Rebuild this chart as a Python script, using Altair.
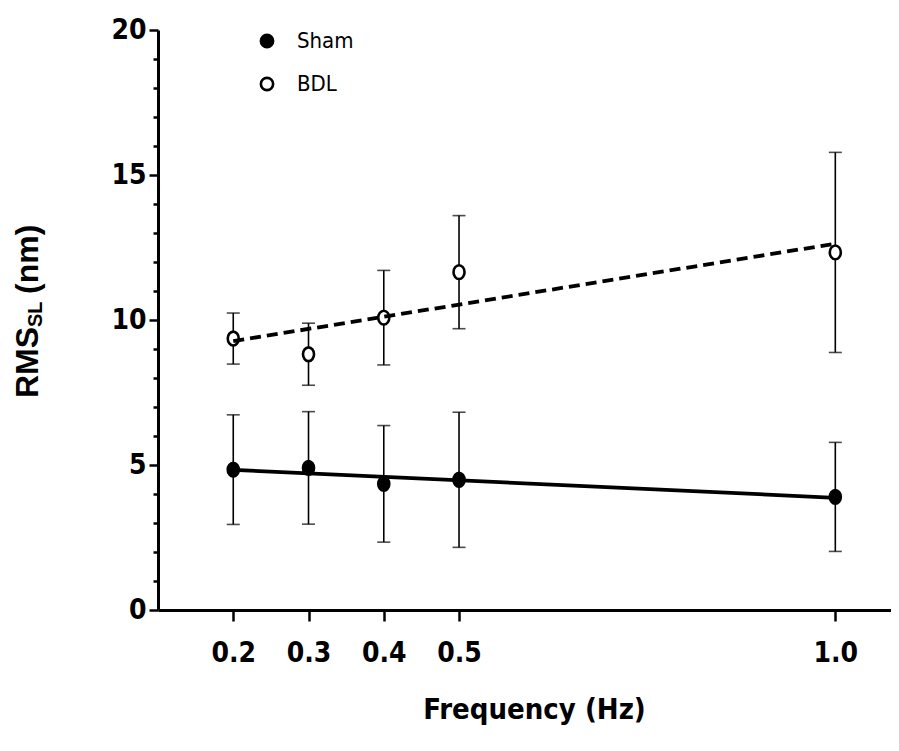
import altair as alt
import pandas as pd

# ---- data ----
freq = [0.2, 0.3, 0.4, 0.5, 1.0]
sham_mean = [4.84, 4.90, 4.35, 4.49, 3.90]
sham_sem = [1.89, 1.94, 2.01, 2.33, 1.88]
bdl_mean = [9.36, 8.82, 10.08, 11.65, 12.33]
bdl_sem = [0.88, 1.07, 1.63, 1.95, 3.45]
groups = ["Sham", "BDL"]
x_tick_values = [0.2, 0.3, 0.4, 0.5, 1.0]
y_tick_values = list(range(0, 21))

rows = []
for g, means, sems in [("Sham", sham_mean, sham_sem), ("BDL", bdl_mean, bdl_sem)]:
    for f, m, s in zip(freq, means, sems):
        rows.append({"freq": f, "rms": m, "lo": m - s, "hi": m + s, "group": g})
df = pd.DataFrame(rows)

NARROW = "'Liberation Sans Narrow', 'Arial Narrow', 'DejaVu Sans Condensed', 'Liberation Sans', sans-serif"
BOLD = "'Liberation Sans', Arial, sans-serif"
ELLIPSE = "M -0.8 0 A 0.8 1 0 1 1 0.8 0 A 0.8 1 0 1 1 -0.8 0 Z"

xs = alt.Scale(domain=[0.1, 1.074], nice=False, zero=False)
ys = alt.Scale(domain=[0, 20], nice=False, zero=False)

x_axis = alt.Axis(
    values=x_tick_values, format=".1f", grid=False,
    domainColor="black", domainWidth=3, tickColor="black", tickWidth=2.5, tickSize=11,
    labelFont=NARROW, labelFontSize=28, labelFontWeight="bold", labelColor="black",
    labelPadding=18, labelOverlap=False,
    title="Frequency (Hz)", titleFont=NARROW, titleFontSize=29, titleFontWeight="bold",
    titleColor="black", titlePadding=28, titleX=376, titleAlign="center",
)
y_axis = alt.Axis(
    values=y_tick_values, grid=False,
    labelExpr="datum.value % 5 === 0 ? datum.label : ''",
    tickSize={"condition": {"test": "datum.value % 5 === 0", "value": 9}, "value": 5},
    domainColor="black", domainWidth=3, tickColor="black", tickWidth=2.5,
    labelFont=NARROW, labelFontSize=28, labelFontWeight="bold", labelColor="black",
    labelPadding=3, labelOverlap=False, title=None,
)

X = alt.X("freq:Q", scale=xs, axis=x_axis, title="Frequency (Hz)")
Y = alt.Y("rms:Q", scale=ys, axis=y_axis, title=None)

base = alt.Chart(df)

bars = base.mark_rule(color="black", strokeWidth=1.6).encode(
    x=X, y=alt.Y("lo:Q", scale=ys, axis=y_axis, title=None), y2="hi:Q"
)
cap_lo = base.mark_tick(orient="horizontal", color="black", size=13, thickness=1.6).encode(
    x=X, y=alt.Y("lo:Q", scale=ys, axis=y_axis, title=None)
)
cap_hi = base.mark_tick(orient="horizontal", color="black", size=13, thickness=1.6).encode(
    x=X, y=alt.Y("hi:Q", scale=ys, axis=y_axis, title=None)
)

points = base.mark_point(shape=ELLIPSE, filled=True, size=190, stroke="black",
                         strokeWidth=2.6, opacity=1).encode(
    x=X, y=Y,
    fill=alt.Fill("group:N", scale=alt.Scale(domain=groups, range=["black", "white"]),
                  legend=alt.Legend(
                      title=None, orient="none", legendX=98, legendY=0,
                      symbolType="circle", symbolSize=150, symbolStrokeColor="black",
                      symbolStrokeWidth=2.6, symbolOpacity=1,
                      labelFont=NARROW, labelFontSize=22, labelColor="black",
                      labelOffset=19, rowPadding=19, padding=0,
                  )),
)

fit_sham = base.transform_filter(alt.datum.group == "Sham").transform_regression(
    "freq", "rms", extent=[0.2, 1.0]
).mark_line(color="black", strokeWidth=3.8).encode(x=X, y=Y)

fit_bdl = base.transform_filter(alt.datum.group == "BDL").transform_regression(
    "freq", "rms", extent=[0.2, 1.0]
).mark_line(color="black", strokeWidth=3.8, strokeDash=[11, 6]).encode(x=X, y=Y)

# y-axis title with subscript, built from text pieces
title_df = pd.DataFrame({"k": [0]})
t_rms = alt.Chart(title_df).mark_text(text="RMS", angle=270, align="left", baseline="alphabetic",
                                      font=BOLD, fontSize=32, fontWeight="bold", color="black").encode(
    x=alt.value(-120), y=alt.value(368))
t_sub = alt.Chart(title_df).mark_text(text="SL", angle=270, align="left", baseline="alphabetic",
                                      font=BOLD, fontSize=20, fontWeight="bold", color="black").encode(
    x=alt.value(-116), y=alt.value(297))
t_nm = alt.Chart(title_df).mark_text(text="(nm)", angle=270, align="left", baseline="alphabetic",
                                     font=BOLD, fontSize=32, fontWeight="bold", color="black").encode(
    x=alt.value(-120), y=alt.value(264))

chart = alt.layer(bars, cap_lo, cap_hi, points, fit_sham, fit_bdl, t_rms, t_sub, t_nm).properties(
    width=733, height=580,
    padding={"left": 150, "top": 22, "right": 0, "bottom": 128},
    autosize=alt.AutoSizeParams(type="none"),
).configure(background="white").configure_view(stroke=None)

chart.save("out.html", embed_options={"renderer": "svg", "actions": False})
